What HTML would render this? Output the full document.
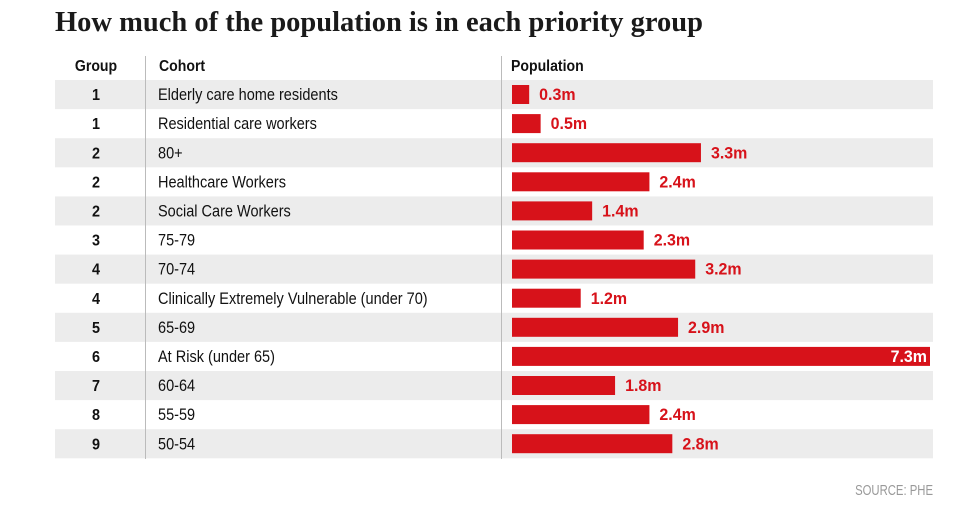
<!DOCTYPE html>
<html><head><meta charset="utf-8">
<style>
body{margin:0;background:#fff;width:961px;height:522px;overflow:hidden}
svg{display:block}
.t{font-family:"Liberation Serif",serif;font-weight:bold;font-size:28.5px;fill:#1a1a1a}
.h{font-family:"Liberation Sans Narrow","Liberation Sans",sans-serif;font-weight:bold;font-size:16px;fill:#111}
.c{font-family:"Liberation Sans Narrow","Liberation Sans",sans-serif;font-size:16.5px;fill:#111}
.v{font-family:"Liberation Sans Narrow","Liberation Sans",sans-serif;font-weight:bold;font-size:17px;fill:#d7121a}
.s{font-family:"Liberation Sans Narrow","Liberation Sans",sans-serif;font-size:14.5px;fill:#999}
</style></head><body>
<svg id="chart" width="961" height="522">
<text x="55" y="31" class="t">How much of the population is in each priority group</text>
<text transform="translate(96,71) scale(0.88,1)" class="h" text-anchor="middle">Group</text>
<text transform="translate(159,71) scale(0.88,1)" class="h">Cohort</text>
<text transform="translate(511,71) scale(0.88,1)" class="h">Population</text>
<g id="rows"></g>
<line x1="145.5" y1="56" x2="145.5" y2="459" stroke="#bbb"/>
<line x1="501.5" y1="56" x2="501.5" y2="459" stroke="#bbb"/>
<text transform="translate(933,495) scale(0.78,1)" class="s" text-anchor="end">SOURCE: PHE</text>
</svg>
<script>
const groups=[1,1,2,2,2,3,4,4,5,6,7,8,9];
const cohorts=["Elderly care home residents","Residential care workers","80+","Healthcare Workers","Social Care Workers","75-79","70-74","Clinically Extremely Vulnerable (under 70)","65-69","At Risk (under 65)","60-64","55-59","50-54"];
const populations=[0.3,0.5,3.3,2.4,1.4,2.3,3.2,1.2,2.9,7.3,1.8,2.4,2.8];
const NS="http://www.w3.org/2000/svg";
const g=document.getElementById('rows');
const rowTop=80,rowH=29.1,barX=512,barW=418,maxV=7.3;
const x=v=>v/maxV*barW;
function mk(t,a){const e=document.createElementNS(NS,t);for(const k in a)e.setAttribute(k,a[k]);g.appendChild(e);return e;}
function tf(px,py,s){return 'translate('+px+','+py+') scale('+s+',1)';}
populations.forEach((v,i)=>{
 const y=rowTop+i*rowH;
 if(i%2===0){const bg=mk('rect',{x:55,y:y,width:878,height:rowH,fill:'#ececec'});
 
 }
 const cy=y+rowH/2+5.5;
 const gt=mk('text',{transform:tf(96,cy,0.9),class:'h','text-anchor':'middle'});gt.textContent=groups[i];
 
 
 const ct=mk('text',{transform:tf(158,cy,0.88),class:'c'});ct.textContent=cohorts[i];
 
 
 const w=x(v);
 const b=mk('rect',{x:barX,y:y+5,width:w,height:19,fill:'#d7121a'});
 
 
 const inside=v===maxV;
 const vt=mk('text',{transform:tf(inside?barX+w-3:barX+w+10,cy,0.94),class:'v','text-anchor':inside?'end':'start'});
 if(inside)vt.setAttribute('style','fill:#fff');
 vt.textContent=v.toFixed(1)+'m';
 
 
});
</script>
</body></html>
